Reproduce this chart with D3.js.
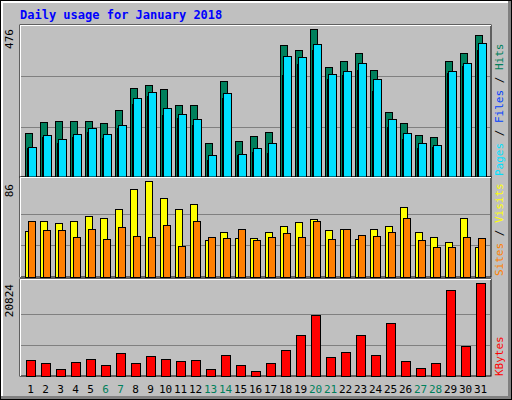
<!DOCTYPE html>
<html><head><meta charset="utf-8">
<script src="https://cdn.jsdelivr.net/npm/d3@7"></script>
<style>body{margin:0;background:#fff}svg{display:block}text{font-family:"DejaVu Sans Mono",monospace}</style>
</head><body><svg id="c" width="512" height="400"></svg>
<script>
const days=d3.range(1,32);
const weekend=[6,7,13,14,20,21,27,28];
const hits=[142,178,181,181,181,175,214,285,295,282,230,230,110,308,117,133,146,424,408,476,353,372,398,343,210,175,136,130,372,398,457];
const files=[94,130,110,130,146,126,159,236,262,201,191,168,55,253,71,81,77,327,363,408,314,327,343,278,162,123,94,97,333,356,408];
const pages=[97,136,123,139,159,139,168,253,272,223,204,188,71,269,74,94,110,389,385,427,330,340,366,314,188,142,110,104,340,366,431];
const visits=[41,50,48,50,55,53,61,79,86,71,61,65,33,40,35,35,40,46,49,52,42,43,34,43,46,63,40,36,31,53,27];
const sites=[50,42,42,36,43,34,45,37,36,47,28,50,36,35,43,33,36,39,36,50,34,43,38,37,40,53,33,27,27,36,35];
const kbytes=[3496,2812,1672,3040,3724,2356,5092,2812,4408,3724,3268,3496,1672,4636,2356,1216,2812,5776,9196,13756,4180,5320,9196,4636,11932,3268,1900,2812,19228,6688,20824];
const maxHits=476, maxVisits=86, maxKB=20824;

const svg=d3.select("#c");
// background and 3D border
svg.append("rect").attr("x",0).attr("y",0).attr("width",512).attr("height",400).attr("fill","#000");
svg.append("rect").attr("x",1).attr("y",1).attr("width",510).attr("height",398).attr("fill","#808080");
svg.append("rect").attr("x",1).attr("y",1).attr("width",507).attr("height",395).attr("fill","#fff");
svg.append("rect").attr("x",3).attr("y",3).attr("width",505).attr("height",393).attr("fill","#c0c0c0");
svg.append("text").attr("x",20).attr("y",19).attr("fill","#0000ff").attr("font-weight","bold").attr("font-size",12).text("Daily usage for January 2018");

const x=d3.scaleBand().domain(days).range([20,485]).paddingInner(0).paddingOuter(0);
const x0=d=>23+(d-1)*15;
const L=20,R=491;
function panel(y0,y1,max){
  svg.append("rect").attr("x",L).attr("y",y0).attr("width",R-L).attr("height",y1-y0).attr("fill","#c0c0c0").attr("stroke","#000");
  svg.append("line").attr("x1",L+1).attr("x2",R).attr("y1",y0+0.5).attr("y2",y0+0.5).attr("stroke","#fff");
  svg.append("line").attr("x1",L+0.5).attr("x2",L+0.5).attr("y1",y0).attr("y2",y1).attr("stroke","#fff");
  return d3.scaleLinear().domain([0,max]).range([y1,y0+4]);
}
function grid(y,fr){
  [1/3,2/3].forEach(f=>{const yy=Math.round(y(max=y.domain()[1]*f))+0.5;
    svg.append("line").attr("x1",L+1).attr("x2",R-1).attr("y1",yy).attr("y2",yy).attr("stroke","#808080");});
}
function bars(data,y,dx,w,color){
  svg.append("g").selectAll("rect").data(data).join("rect")
   .attr("x",(d,i)=>x0(days[i])+dx+0.5).attr("y",d=>Math.round(y(d))+0.5)
   .attr("width",w).attr("height",d=>y.range()[0]-Math.round(y(d)))
   .attr("fill",color).attr("stroke","#000");
}
function vlabel(xp,yp,parts,anchor){
  const t=svg.append("text").attr("transform",`translate(${xp},${yp}) rotate(-90)`).attr("font-size",11).attr("text-anchor",anchor||"start");
  parts.forEach(p=>t.append("tspan").attr("fill",p[1]).text(p[0]));
}
// top panel
const y1=panel(25,177,maxHits);
svg.append("line");
[76,127].forEach(()=>{});
const g1=[y1(maxHits*0.6807),y1(maxHits*0.3361)];
g1.forEach(yy=>svg.append("line").attr("x1",L+1).attr("x2",R-1).attr("y1",Math.round(yy)+0.5).attr("y2",Math.round(yy)+0.5).attr("stroke","#808080"));
bars(hits,y1,2,7,"#00805c");
bars(files,y1,4,4,"#0040ff");
bars(pages,y1,5,8,"#00e0ff");
vlabel(13,29,[["476","#000"]],"end");
vlabel(503,176,[["Pages","#00e0ff"],[" / ","#000"],["Files","#0040ff"],[" / ","#000"],["Hits","#00805c"]]);
// middle
const y2=panel(177,277,maxVisits);
[0.658,0.333].forEach(f=>{const yy=Math.round(y2(maxVisits*f))+0.5;svg.append("line").attr("x1",L+1).attr("x2",R-1).attr("y1",yy).attr("y2",yy).attr("stroke","#808080");});
bars(visits,y2,2,7,"#ffff00");
bars(sites,y2,5,7,"#ff8000");
vlabel(13,184,[["86","#000"]],"end");
vlabel(503,276,[["Sites","#ff8000"],[" / ","#000"],["Visits","#ffff00"]]);
// bottom
const y3=panel(279,376,maxKB);
[0.667,0.333].forEach(f=>{const yy=Math.round(y3(maxKB*f))+0.5;svg.append("line").attr("x1",L+1).attr("x2",R-1).attr("y1",yy).attr("y2",yy).attr("stroke","#808080");});
bars(kbytes,y3,3,9,"#ff0000");
vlabel(13,284,[["20824","#000"]],"end");
vlabel(503,376,[["KBytes","#ff0000"]]);
// day labels
svg.append("g").selectAll("text").data(days).join("text")
 .attr("x",d=>x0(d)+7.5).attr("y",393).attr("text-anchor","middle").attr("font-size",11)
 .attr("fill",d=>weekend.includes(d)?"#00805c":"#000").text(d=>d);
</script></body></html>
